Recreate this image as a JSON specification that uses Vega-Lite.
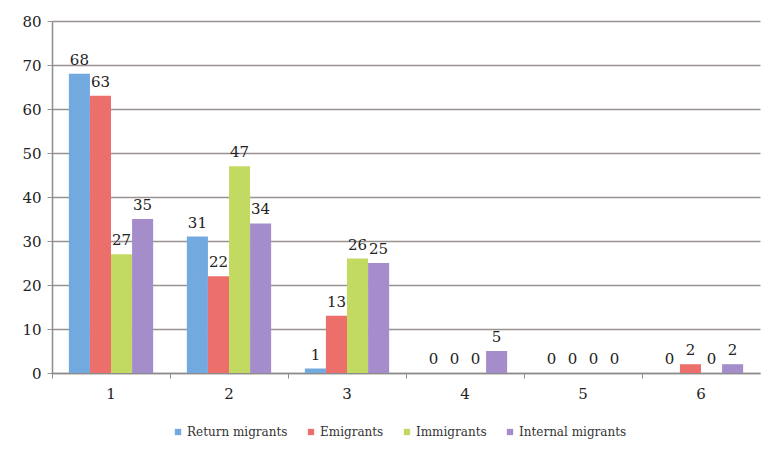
{
  "$schema": "https://vega.github.io/schema/vega-lite/v6.json",
  "width": 708,
  "height": 352,
  "autosize": {"type": "none"},
  "padding": {"left": 52, "top": 21, "right": 8, "bottom": 77},
  "background": "white",
  "data": {"values": [
    {"cat": "1", "series": "Return migrants", "v": 68},
    {"cat": "1", "series": "Emigrants", "v": 63},
    {"cat": "1", "series": "Immigrants", "v": 27},
    {"cat": "1", "series": "Internal migrants", "v": 35},
    {"cat": "2", "series": "Return migrants", "v": 31},
    {"cat": "2", "series": "Emigrants", "v": 22},
    {"cat": "2", "series": "Immigrants", "v": 47},
    {"cat": "2", "series": "Internal migrants", "v": 34},
    {"cat": "3", "series": "Return migrants", "v": 1},
    {"cat": "3", "series": "Emigrants", "v": 13},
    {"cat": "3", "series": "Immigrants", "v": 26},
    {"cat": "3", "series": "Internal migrants", "v": 25},
    {"cat": "4", "series": "Return migrants", "v": 0},
    {"cat": "4", "series": "Emigrants", "v": 0},
    {"cat": "4", "series": "Immigrants", "v": 0},
    {"cat": "4", "series": "Internal migrants", "v": 5},
    {"cat": "5", "series": "Return migrants", "v": 0},
    {"cat": "5", "series": "Emigrants", "v": 0},
    {"cat": "5", "series": "Immigrants", "v": 0},
    {"cat": "5", "series": "Internal migrants", "v": 0},
    {"cat": "6", "series": "Return migrants", "v": 0},
    {"cat": "6", "series": "Emigrants", "v": 2},
    {"cat": "6", "series": "Immigrants", "v": 0},
    {"cat": "6", "series": "Internal migrants", "v": 2}
  ]},
  "encoding": {
    "x": {"field": "cat", "type": "nominal", "scale": {"padding": 0},
      "axis": {"title": null, "labelAngle": 0, "bandPosition": 0, "domainColor": "#8c8c8c", "domainWidth": 1.5, "tickColor": "#8c8c8c", "tickSize": 5, "labelFont": "DejaVu Serif", "labelFontSize": 15, "labelColor": "#222", "labelPadding": 8}},
    "xOffset": {"field": "series", "type": "nominal", "sort": ["Return migrants", "Emigrants", "Immigrants", "Internal migrants"], "scale": {"paddingInner": 0, "paddingOuter": 0.8}},
    "y": {"field": "v", "type": "quantitative", "scale": {"domain": [0, 80]},
      "axis": {"title": null, "values": [0,10,20,30,40,50,60,70,80], "grid": true, "gridColor": "#9a9290", "gridWidth": 1.5, "domainColor": "#8c8c8c", "domainWidth": 1.5, "tickColor": "#9a9290", "tickSize": 5, "labelFont": "DejaVu Serif", "labelFontSize": 15, "labelColor": "#222", "labelPadding": 6}}
  },
  "layer": [
    {
      "mark": {"type": "bar"},
      "encoding": {
        "color": {"field": "series", "type": "nominal", "sort": ["Return migrants", "Emigrants", "Immigrants", "Internal migrants"],
          "scale": {"domain": ["Return migrants", "Emigrants", "Immigrants", "Internal migrants"], "range": ["#72a9df", "#ec6f6c", "#c2da62", "#a58dcb"]},
          "legend": {"title": null, "orient": "none", "direction": "horizontal", "legendX": 120, "legendY": 405, "symbolType": "square", "symbolSize": 40, "labelFont": "DejaVu Serif", "labelFontSize": 12, "labelColor": "#333", "columnPadding": 17, "symbolOffset": 0, "labelOffset": 3}}
      }
    },
    {
      "mark": {"type": "text", "baseline": "bottom", "dy": -6, "font": "DejaVu Serif", "fontSize": 15, "color": "#222"},
      "encoding": {"text": {"field": "v", "type": "quantitative"}}
    }
  ],
  "config": {"view": {"stroke": null}}
}
